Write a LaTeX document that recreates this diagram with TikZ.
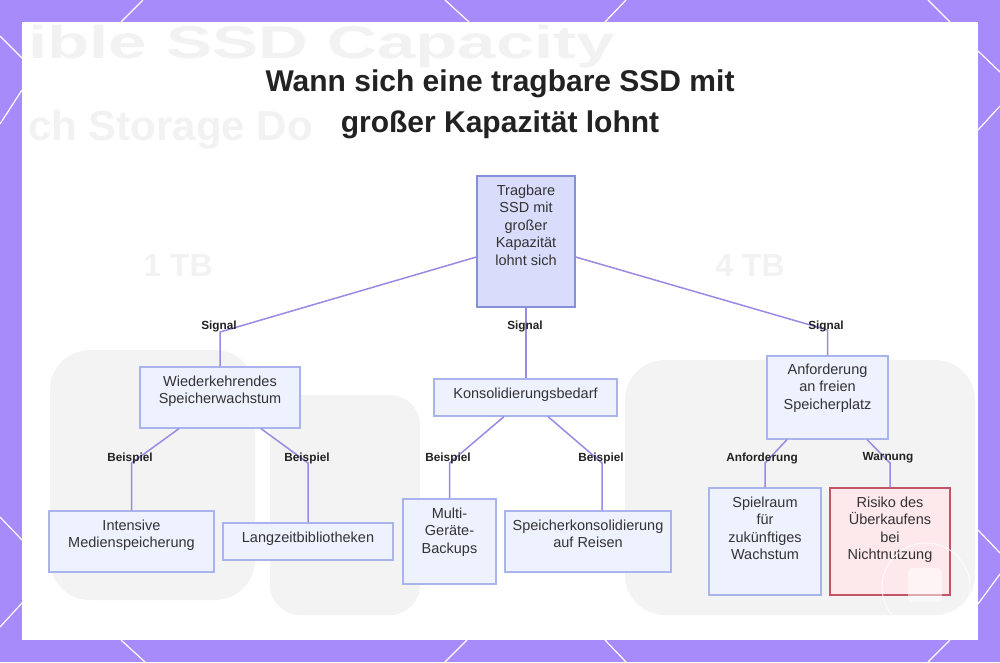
\documentclass[tikz,border=0pt]{standalone}
\usepackage{fontspec}
\setmainfont{Liberation Sans}
\definecolor{bgP}{HTML}{A78BFA}
\definecolor{lineC}{HTML}{9D88E3}
\definecolor{boxF}{HTML}{EEF1FE}
\definecolor{boxB}{HTML}{AAB4EC}
\definecolor{rootF}{HTML}{D9DCFB}
\definecolor{rootB}{HTML}{8690D8}
\definecolor{warnF}{HTML}{FDE8EC}
\definecolor{warnB}{HTML}{C25565}
\definecolor{txtC}{HTML}{333333}
\definecolor{lblC}{HTML}{222222}
\definecolor{faintC}{HTML}{F2F2F2}
\definecolor{blobC}{HTML}{F3F3F4}
\begin{document}
\begin{tikzpicture}[x=1pt,y=-1pt,
  conn/.style={draw=lineC, line width=1.5pt},
  box/.style={draw=boxB, fill=boxF, line width=1.2pt, inner sep=0, rectangle},
  rootbox/.style={box, draw=rootB, fill=rootF},
  warnbox/.style={box, draw=warnB, fill=warnF},
  txt/.style={inner sep=0, align=center, anchor=north, text=txtC, font=\fontsize{14.5}{17.5}\selectfont},
  lbl/.style={inner sep=0, text=lblC, font=\bfseries\fontsize{11.8}{13}\selectfont},
  hexl/.style={draw=white, line width=1.2pt},
  faint/.style={inner sep=0, text=faintC, font=\bfseries\fontsize{46}{50}\selectfont},
]
\useasboundingbox (0,0) rectangle (1000,662);
% purple frame
\fill[bgP] (0,0) rectangle (1000,662);
\draw[hexl] (143,0) -- (121,22);
\draw[hexl] (445,0) -- (469,22);
\draw[hexl] (626,0) -- (605,22);
\draw[hexl] (928,0) -- (950,22);
\draw[hexl] (121,640) -- (145,662);
\draw[hexl] (467,640) -- (445,662);
\draw[hexl] (605,640) -- (626,662);
\draw[hexl] (950,640) -- (928,662);
\draw[hexl] (0,36) -- (22,58);
\draw[hexl] (22,90) -- (0,124);
\draw[hexl] (0,517) -- (22,540);
\draw[hexl] (22,603) -- (0,627);
\draw[hexl] (978,51) -- (1000,72);
\draw[hexl] (1000,106) -- (978,130);
\draw[hexl] (978,530) -- (1000,553);
\draw[hexl] (1000,574) -- (978,604);
% white panel
\fill[white] (22,22) rectangle (978,640);
% faint blurred background
\fill[blobC, rounded corners=40pt] (50,350) rectangle (255,600);
\fill[blobC, rounded corners=30pt] (270,395) rectangle (420,615);
\fill[blobC, rounded corners=40pt] (625,360) rectangle (975,615);
\node[faint, anchor=base west, xscale=1.5] (bgt1) at (28,58) {ible SSD Capacity};
\node[faint, anchor=base west, font=\bfseries\fontsize{42}{48}\selectfont] (bgt2) at (28,140) {ch Storage Do};
\node[faint, font=\bfseries\fontsize{32}{34}\selectfont] (bgt3) at (178,265) {1 TB};
\node[faint, font=\bfseries\fontsize{32}{34}\selectfont] (bgt4) at (750,265) {4 TB};
% title
\node[inner sep=0, anchor=base, text=lblC, font=\bfseries\fontsize{30}{41}\selectfont] (title1) at (500,91) {Wann sich eine tragbare SSD mit};
\node[inner sep=0, anchor=base, text=lblC, font=\bfseries\fontsize{30}{41}\selectfont] (title2) at (500,132) {großer Kapazität lohnt};
% boxes
\node[rootbox, minimum width=98, minimum height=131] (root) at (526,241.5) {};
\node[box, minimum width=160, minimum height=61] (w2) at (220,397.5) {};
\node[box, minimum width=183, minimum height=37] (k2) at (525.5,397.5) {};
\node[box, minimum width=121, minimum height=83] (a2) at (827.5,397.5) {};
\node[box, minimum width=165, minimum height=61] (i3) at (131.5,541.5) {};
\node[box, minimum width=170, minimum height=37] (l3) at (308,541.5) {};
\node[box, minimum width=93, minimum height=85] (m3) at (449.5,541.5) {};
\node[box, minimum width=166, minimum height=61] (s3) at (588,541.5) {};
\node[box, minimum width=112, minimum height=107] (p3) at (765,541.5) {};
\node[warnbox, minimum width=120, minimum height=107] (r3) at (890,541.5) {};
% connectors
\coordinate (bw) at (220,332);
\coordinate (ba) at (827.5,330);
\coordinate (bi) at (131.5,463);
\coordinate (bl) at (308,463);
\coordinate (bm) at (449.5,463);
\coordinate (bs) at (602,463);
\coordinate (bp) at (765,463);
\coordinate (br) at (890,463);
\draw[conn] ([yshift=-15.5pt]root.west) -- (bw) -- (w2.north);
\draw[conn] (root.south) -- (root.south |- k2.north);
\draw[conn] ([yshift=-15.5pt]root.east) -- (ba) -- (a2.north);
\draw[conn] ([xshift=-41pt]w2.south) -- (bi) -- (i3.north);
\draw[conn] ([xshift=41pt]w2.south) -- (bl) -- (l3.north);
\draw[conn] ([xshift=-21.5pt]k2.south) -- (bm) -- (m3.north);
\draw[conn] ([xshift=22.5pt]k2.south) -- (bs) -- (bs |- s3.north);
\draw[conn] ([xshift=-40.5pt]a2.south) -- (bp) -- (p3.north);
\draw[conn] ([xshift=39.5pt]a2.south) -- (br) -- (r3.north);
% box texts
\node[txt] (roott) at (526,184.5) {Tragbare\\SSD mit\\großer\\Kapazität\\lohnt sich};
\node[txt] (w2t) at (220,375.5) {Wiederkehrendes\\Speicherwachstum};
\node[txt] (k2t) at (525.5,387.5) {Konsolidierungsbedarf};
\node[txt] (a2t) at (827.5,363.5) {Anforderung\\an freien\\Speicherplatz};
\node[txt] (i3t) at (131.5,519.5) {Intensive\\Medienspeicherung};
\node[txt] (l3t) at (308,531.5) {Langzeitbibliotheken};
\node[txt] (m3t) at (449.5,507.5) {Multi-\\Geräte-\\Backups};
\node[txt] (s3t) at (588,519.5) {Speicherkonsolidierung\\auf Reisen};
\node[txt] (p3t) at (765,496.5) {Spielraum\\für\\zukünftiges\\Wachstum};
\node[txt] (r3t) at (890,496.5) {Risiko des\\Überkaufens\\bei\\Nichtnutzung};
% edge labels
\node[lbl] (ls1) at (219,326) {Signal};
\node[lbl] (ls2) at (525,326) {Signal};
\node[lbl] (ls3) at (826,326) {Signal};
\node[lbl] (lb1) at (130,458) {Beispiel};
\node[lbl] (lb2) at (307,458) {Beispiel};
\node[lbl] (lb3) at (448,458) {Beispiel};
\node[lbl] (lb4) at (601,458) {Beispiel};
\node[lbl] (lan) at (762,458) {Anforderung};
\node[lbl] (lwa) at (888,458) {Warnung};
% watermark
\draw[white, line width=1pt, opacity=0.8] (926,587) circle (44);
\fill[white, opacity=0.5, rounded corners=4pt] (908,568) rectangle (942,602);
\end{tikzpicture}
\end{document}
